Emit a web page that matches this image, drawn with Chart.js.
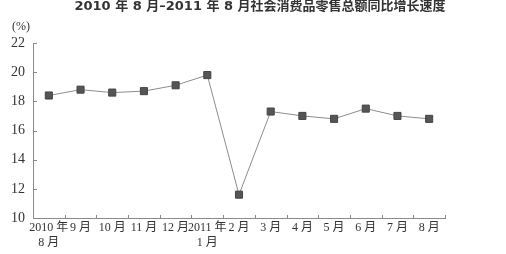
<!DOCTYPE html>
<html>
<head>
<meta charset="utf-8">
<script src="https://cdn.jsdelivr.net/npm/chart.js@4"></script>
<style>
  html, body { margin: 0; padding: 0; background: #fff; }
  #wrap { width: 506px; height: 254px; position: relative; }
</style>
</head>
<body>
<div id="wrap"><canvas id="myChart" width="506" height="254"></canvas></div>
<script>
const chartTitle = '2010 年 8 月–2011 年 8 月社会消费品零售总额同比增长速度';
const unitLabel = '(%)';
const months = [
    ['2010 年', '8 月'], '9 月', '10 月', '11 月', '12 月', ['2011 年', '1 月'],
    '2 月', '3 月', '4 月', '5 月', '6 月', '7 月', '8 月'
];
const growthRate = [18.4, 18.8, 18.6, 18.7, 19.1, 19.8, 11.6, 17.3, 17.0, 16.8, 17.5, 17.0, 16.8];
const yTicks = [10, 12, 14, 16, 18, 20, 22];

const serif = "'Liberation Serif', 'Noto Sans CJK SC', serif";
const axisColor = '#8a8a8a';
const textColor = '#333';

// title, unit and small inward tick marks
const extras = {
    id: 'extras',
    afterDraw(chart) {
        const ctx = chart.ctx;
        const xs = chart.scales.x;
        const ys = chart.scales.y;
        ctx.save();
        ctx.fillStyle = textColor;
        ctx.font = "bold 13px 'DejaVu Sans', 'Noto Sans CJK SC', sans-serif";
        ctx.textAlign = 'center';
        ctx.textBaseline = 'middle';
        ctx.fillText(chartTitle, 260, 7);
        ctx.font = '12px ' + serif;
        ctx.textAlign = 'left';
        ctx.fillText(unitLabel, 12, 27);

        ctx.strokeStyle = axisColor;
        ctx.lineWidth = 1;
        ctx.beginPath();
        const step = xs.getPixelForValue(1) - xs.getPixelForValue(0);
        for (let i = 0; i <= months.length; i++) {
            const x = Math.round(xs.getPixelForValue(i) - step / 2) + 0.5;
            ctx.moveTo(x, ys.bottom);
            ctx.lineTo(x, ys.bottom - 3);
        }
        yTicks.forEach(v => {
            const y = Math.round(ys.getPixelForValue(v)) + 0.5;
            ctx.moveTo(xs.left, y);
            ctx.lineTo(xs.left + 4, y);
        });
        ctx.stroke();
        ctx.restore();
    }
};

new Chart(document.getElementById('myChart'), {
    type: 'line',
    data: {
        labels: months,
        datasets: [{
            data: growthRate,
            borderColor: '#8c8c8c',
            borderWidth: 1,
            pointStyle: 'rect',
            pointRadius: 5,
            pointBackgroundColor: '#555',
            pointBorderColor: '#444',
            pointBorderWidth: 1,
            tension: 0
        }]
    },
    options: {
        responsive: false,
        animation: false,
        layout: { padding: { top: 43, right: 61, left: 0, bottom: 0 } },
        plugins: {
            legend: { display: false },
            title: { display: false },
            tooltip: { enabled: false }
        },
        scales: {
            x: {
                offset: true,
                grid: { display: false, drawTicks: false },
                border: { color: axisColor, width: 1 },
                ticks: {
                    color: textColor,
                    font: { family: serif, size: 12 },
                    padding: 3,
                    maxRotation: 0,
                    autoSkip: false
                },
                afterFit(scale) { scale.height = 36; }
            },
            y: {
                min: 10,
                max: 22,
                grid: { display: false, drawTicks: false },
                border: { color: axisColor, width: 1 },
                afterBuildTicks(scale) { scale.ticks = yTicks.map(v => ({ value: v })); },
                ticks: {
                    color: textColor,
                    font: { family: serif, size: 14 },
                    padding: 8
                },
                afterFit(scale) { scale.width = 33; }
            }
        }
    },
    plugins: [extras]
});
</script>
</body>
</html>
